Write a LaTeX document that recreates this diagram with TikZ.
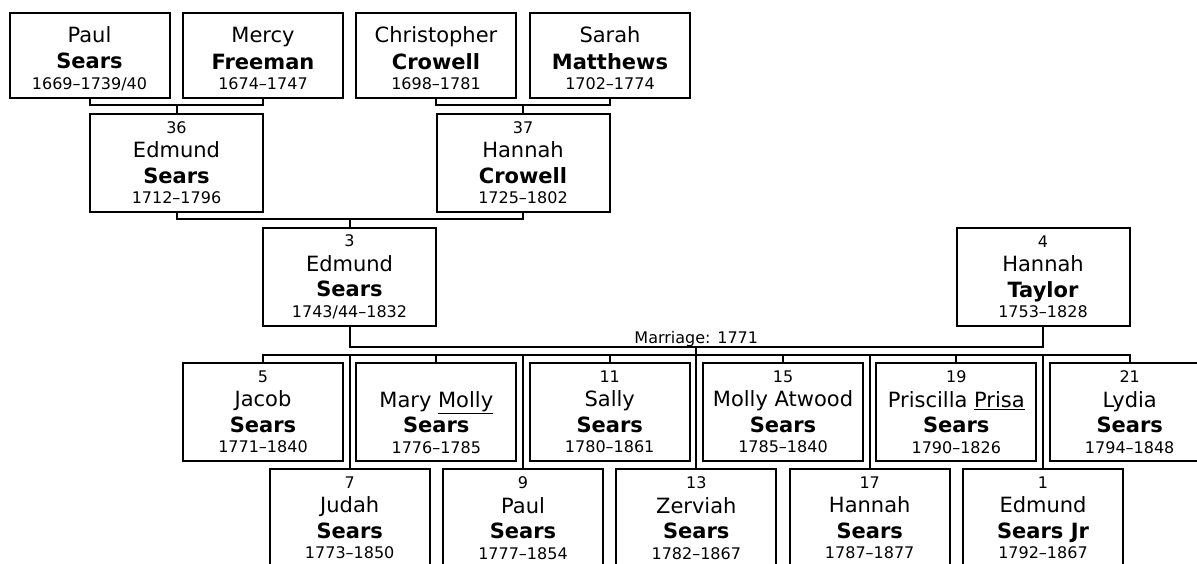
\documentclass[tikz,border=0pt]{standalone}
\usepackage{fontspec}
\setmainfont{DejaVu Sans}
\newcommand\sm[1]{{\fontsize{16}{19}\selectfont #1}}
\newcommand\up{\rule{0pt}{23pt}}
\tikzset{
  person/.style={draw, inner sep=0pt, minimum width=160pt, minimum height=98pt, align=center},
  elder/.style={person, minimum height=85pt},
  parent/.style={person, minimum width=173pt},
}
\begin{document}
\begin{tikzpicture}[x=1pt, y=-1pt, line width=2pt, line cap=rect, font=\fontsize{21}{25.5}\selectfont]
\useasboundingbox (0,0) rectangle (1197,563);
\node[elder] (PS) at (89.5,55) {\up Paul\\[1pt]\textbf{Sears}\\[-5pt]\sm{1669--1739/40}};
\node[elder] (MF) at (263,55) {\up Mercy\\[1pt]\textbf{Freeman}\\[-5pt]\sm{1674--1747}};
\node[elder] (CC) at (436,55) {\up Christopher\\[1pt]\textbf{Crowell}\\[-5pt]\sm{1698--1781}};
\node[elder] (SM) at (610,55) {\up Sarah\\[1pt]\textbf{Matthews}\\[-5pt]\sm{1702--1774}};
\node[parent] (ES) at (176.5,162.5) {\sm{36}\\[-1pt]Edmund\\\textbf{Sears}\\[-5pt]\sm{1712--1796}};
\node[parent] (HC) at (523,162.5) {\sm{37}\\[-1pt]Hannah\\\textbf{Crowell}\\[-5pt]\sm{1725--1802}};
\node[parent] (E) at (349.5,277) {\sm{3}\\[-1pt]Edmund\\\textbf{Sears}\\[-5pt]\sm{1743/44--1832}};
\node[parent] (HT) at (1043,277) {\sm{4}\\[-1pt]Hannah\\\textbf{Taylor}\\[-5pt]\sm{1753--1828}};
\foreach \nm/\x/\y/\num/\first/\last/\dates in {
  Ja/263/412/5/Jacob/Sears/1771--1840,
  Ju/349.7/518/7/Judah/Sears/1773--1850,
  Ma/436.3/412/{\phantom{0}}/{Mary \underline{Molly}}/Sears/1776--1785,
  Pa/523/518/9/Paul/Sears/1777--1854,
  Sa/609.7/412/11/Sally/Sears/1780--1861,
  Ze/696.3/518/13/Zerviah/Sears/1782--1867,
  Mo/783/412/15/Molly Atwood/Sears/1785--1840,
  Ha/869.7/518/17/Hannah/Sears/1787--1877,
  Pr/956.3/412/19/{Priscilla \underline{Prisa}}/Sears/1790--1826,
  Ed/1043/518/1/Edmund/Sears Jr/1792--1867,
  Ly/1129.7/412/21/Lydia/Sears/1794--1848}
  \node[person] (\nm) at (\x,\y) {\sm{\num}\\[-1pt]\first\\\textbf{\last}\\[-5pt]\sm{\dates}};
\draw (PS.south) -- ++(0,6.5) coordinate (b1) -| (MF.south);
\draw (ES.north) -- (ES.north |- b1);
\draw (CC.south) -- ++(0,6.5) coordinate (b2) -| (SM.south);
\draw (HC.north) -- (HC.north |- b2);
\draw (ES.south) -- ++(0,6) coordinate (b3) -| (HC.south);
\draw (E.north) -- (E.north |- b3);
\draw (E.south) -- ++(0,20) coordinate (m) -| (HT.south)
  node[pos=.25, above=-1pt, inner sep=0pt] {\sm{Marriage: 1771}} coordinate[pos=.25] (mid);
\draw (mid) -- ++(0,8) coordinate (k);
\draw (Ja.north |- k) -- (Ly.north |- k);
\foreach \nm in {Ja,Ju,Ma,Pa,Sa,Ze,Mo,Ha,Pr,Ed,Ly} \draw (\nm.north) -- (\nm.north |- k);
\end{tikzpicture}
\end{document}
